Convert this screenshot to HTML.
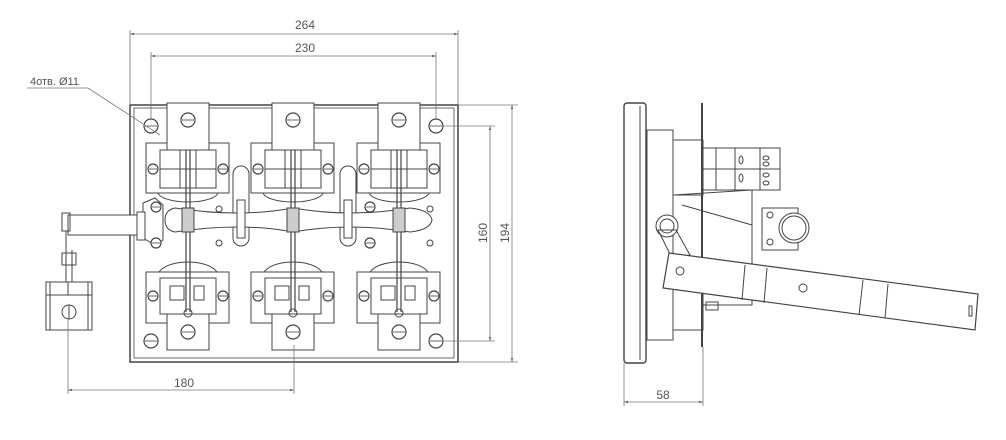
<!DOCTYPE html>
<html><head><meta charset="utf-8"><style>
html,body{margin:0;padding:0;background:#fff;}
svg{display:block;font-family:"Liberation Sans",sans-serif;}
</style></head><body>
<svg width="1006" height="440" viewBox="0 0 1006 440" xmlns="http://www.w3.org/2000/svg">
<defs>
<marker id="a" viewBox="0 0 10 10" refX="10" refY="5" markerWidth="7" markerHeight="5" orient="auto-start-reverse"><path d="M0,2 L10,5 L0,8z" fill="#666"/></marker>
<g id="hole"><circle r="7" fill="#fff" stroke="#444" stroke-width="1.2"/><line x1="-6" y1="0" x2="6" y2="0" stroke="#444" stroke-width="0.8"/></g>
<g id="shole"><circle r="5" fill="#fff" stroke="#444" stroke-width="1.2"/><line x1="-4" y1="0" x2="4" y2="0" stroke="#444" stroke-width="0.8"/></g>
<g id="topc">
 <path d="M-30,-28 A30,10 0 0 0 30,-28" fill="#fff" stroke="#444"/>
 <rect x="-42" y="-77" width="83" height="50" fill="#fff" stroke="#444"/>
 <rect x="-21" y="-117" width="42" height="58" fill="#fff" stroke="#444"/>
 <use href="#hole" x="0" y="-100"/>
 <rect x="-28" y="-70" width="56" height="38" fill="#fff" stroke="#444"/>
 <line x1="-28" y1="-51" x2="28" y2="-51" stroke="#444"/>
 <line x1="-8" y1="-70" x2="-8" y2="-32" stroke="#444"/><line x1="8" y1="-70" x2="8" y2="-32" stroke="#444"/>
 <use href="#shole" x="-35" y="-51"/><use href="#shole" x="35" y="-51"/>
</g>
<g id="botc">
 <path d="M-30,56 A30,14 0 0 1 30,56" fill="#fff" stroke="#444"/>
 <rect x="-42" y="52" width="83" height="51" fill="#fff" stroke="#444"/>
 <rect x="-21" y="90" width="42" height="40" fill="#fff" stroke="#444"/>
 <use href="#hole" x="0" y="112"/>
 <rect x="-28" y="58" width="56" height="36" fill="#fff" stroke="#444"/>
 <rect x="-18" y="66" width="14" height="14" fill="none" stroke="#444"/>
 <rect x="6" y="66" width="10" height="14" fill="none" stroke="#444"/>
 <use href="#shole" x="-35" y="76"/><use href="#shole" x="35" y="76"/>
 <circle cx="0" cy="93" r="4" fill="none" stroke="#444"/>
</g>
</defs>
<g stroke="#444" fill="none" stroke-width="1">
<rect x="130" y="105" width="328" height="257" stroke-width="1.5"/>
<rect x="134" y="108" width="320" height="250" stroke-width="0.8"/>
<use href="#hole" x="151" y="126"/><use href="#hole" x="436" y="126"/>
<use href="#hole" x="151" y="341"/><use href="#hole" x="436" y="341"/>
<g transform="translate(188,220)"><use href="#topc"/><use href="#botc"/></g>
<g transform="translate(293,220)"><use href="#topc"/><use href="#botc"/></g>
<g transform="translate(399,220)"><use href="#topc"/><use href="#botc"/></g>
<g stroke-width="1.2">
<line x1="186" y1="150" x2="186" y2="312"/><line x1="190" y1="150" x2="190" y2="312"/>
<line x1="291" y1="150" x2="291" y2="312"/><line x1="295" y1="150" x2="295" y2="312"/>
<line x1="397" y1="150" x2="397" y2="312"/><line x1="401" y1="150" x2="401" y2="312"/>
</g>
<rect x="233" y="166" width="16" height="80" rx="8" fill="#fff"/><rect x="340" y="166" width="16" height="80" rx="8" fill="#fff"/>
<path d="M175,208 Q240,218 293,208 Q350,218 410,208 Q430,210 432,220 Q430,230 410,232 Q350,222 293,232 Q240,222 175,232 Q165,230 165,220 Q165,210 175,208z" fill="#fff"/>
<rect x="182" y="208" width="12" height="24" fill="#ccc"/><rect x="287" y="208" width="12" height="24" fill="#ccc"/><rect x="393" y="208" width="12" height="24" fill="#ccc"/>
<rect x="237" y="200" width="8" height="38" fill="#fff"/><rect x="344" y="200" width="8" height="38" fill="#fff"/>
<path d="M143,203 L155,198 L163,205 L163,240 L155,245 L143,238z" fill="#fff"/>
<use href="#shole" x="156" y="207"/><use href="#shole" x="156" y="243"/>
<use href="#shole" x="370" y="207"/><use href="#shole" x="370" y="243"/>
<circle cx="219" cy="209" r="3"/><circle cx="219" cy="243" r="3"/><circle cx="430" cy="209" r="3"/><circle cx="430" cy="243" r="3"/>
<rect x="68" y="215" width="70" height="20" fill="#fff"/>
<rect x="137" y="212" width="8" height="28" fill="#fff"/>
<rect x="62" y="213" width="8" height="18"/>
<line x1="66" y1="231" x2="66" y2="282"/><line x1="72" y1="250" x2="72" y2="282"/>
<rect x="62" y="253" width="14" height="12"/>
<path d="M46,282 L92,282 L92,330 L46,330z" fill="#fff"/>
<line x1="46" y1="295" x2="92" y2="295"/>
<line x1="50" y1="282" x2="50" y2="330"/><line x1="88" y1="282" x2="88" y2="330"/>
<circle cx="69" cy="312" r="7"/><line x1="69" y1="305" x2="69" y2="319"/>
<line x1="68" y1="282" x2="68" y2="295"/>
</g>
<g stroke="#777" stroke-width="0.8" fill="none">
<line x1="130" y1="30" x2="130" y2="105"/><line x1="458" y1="30" x2="458" y2="105"/>
<line x1="130" y1="34" x2="458" y2="34" marker-start="url(#a)" marker-end="url(#a)"/>
<line x1="151" y1="52" x2="151" y2="120"/><line x1="436" y1="52" x2="436" y2="120"/>
<line x1="151" y1="56" x2="436" y2="56" marker-start="url(#a)" marker-end="url(#a)"/>
<polyline points="27,88 88,88 160,135"/>
<line x1="444" y1="126" x2="495" y2="126"/><line x1="444" y1="341" x2="495" y2="341"/>
<line x1="490" y1="126" x2="490" y2="341" marker-start="url(#a)" marker-end="url(#a)"/>
<line x1="458" y1="105" x2="518" y2="105"/><line x1="458" y1="362" x2="518" y2="362"/>
<line x1="512" y1="105" x2="512" y2="362" marker-start="url(#a)" marker-end="url(#a)"/>
<line x1="68" y1="318" x2="68" y2="394"/><line x1="294" y1="345" x2="294" y2="394"/>
<line x1="68" y1="390" x2="294" y2="390" marker-start="url(#a)" marker-end="url(#a)"/>
<line x1="624" y1="363" x2="624" y2="406"/><line x1="703" y1="347" x2="703" y2="406"/>
<line x1="624" y1="402" x2="703" y2="402" marker-start="url(#a)" marker-end="url(#a)"/>
</g>
<g fill="#555" font-size="12">
<text x="305" y="29" text-anchor="middle">264</text>
<text x="305" y="52" text-anchor="middle">230</text>
<text x="30" y="85" font-size="11">4отв. Ø11</text>
<text x="184" y="387" text-anchor="middle">180</text>
<text x="663" y="399" text-anchor="middle">58</text>
<text transform="translate(490,233) rotate(-90)" text-anchor="middle" y="-3">160</text>
<text transform="translate(512,233) rotate(-90)" text-anchor="middle" y="-3">194</text>
</g>
<g stroke="#444" fill="none" stroke-width="1">
<rect x="624" y="103" width="22" height="260" rx="3" fill="#fff" stroke-width="1.4"/>
<line x1="640" y1="106" x2="640" y2="360"/>
<rect x="647" y="130" width="26" height="210"/>
<rect x="673" y="140" width="30" height="55"/>
<rect x="673" y="280" width="30" height="50"/>
<line x1="702" y1="103" x2="702" y2="347" stroke-width="2"/>
<rect x="703" y="148" width="77" height="42"/>
<line x1="716" y1="148" x2="716" y2="190"/><line x1="735" y1="148" x2="735" y2="190"/>
<line x1="760" y1="148" x2="760" y2="190"/>
<line x1="703" y1="169" x2="780" y2="169"/>
<ellipse cx="741" cy="160" rx="2" ry="4"/><ellipse cx="741" cy="178" rx="2" ry="4"/>
<ellipse cx="766" cy="158" rx="3" ry="2"/><ellipse cx="766" cy="164" rx="3" ry="2"/>
<ellipse cx="766" cy="175" rx="3" ry="2"/><ellipse cx="766" cy="183" rx="3" ry="2"/>
<path d="M674,195 L752,190 L752,305 L703,305"/>
<line x1="682" y1="205" x2="752" y2="225"/>
<rect x="762" y="208" width="36" height="42" fill="#fff"/>
<circle cx="794" cy="228" r="15" fill="#fff"/>
<circle cx="794" cy="228" r="12"/>
<circle cx="770" cy="215" r="3"/><circle cx="770" cy="242" r="3"/>
<circle cx="667" cy="226" r="11" fill="#fff"/><circle cx="667" cy="226" r="7"/>
<path d="M658,230 L676,230 L690,255 L672,258z"/>
<path d="M669,253 L978,294 L975,330 L663,288z" fill="#fff" stroke-width="1.2"/>
<line x1="745" y1="265" x2="742" y2="300"/><line x1="767" y1="268" x2="764" y2="303"/>
<line x1="863" y1="280" x2="859" y2="315"/><line x1="888" y1="284" x2="885" y2="318"/>
<circle cx="680" cy="271" r="4"/><circle cx="803" cy="288" r="4"/>
<rect x="969" y="306" width="3" height="10"/>
<rect x="706" y="302" width="12" height="8"/>
</g>
</svg>
</body></html>
